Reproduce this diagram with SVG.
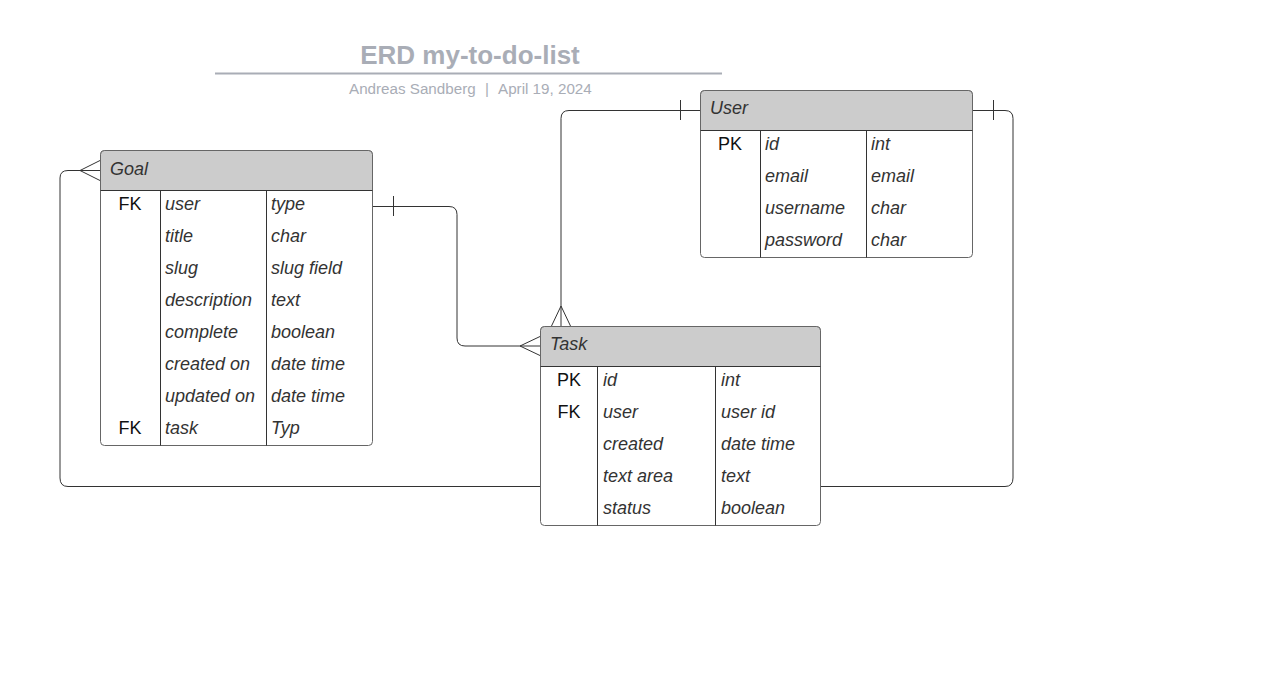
<svg xmlns="http://www.w3.org/2000/svg" width="1284" height="694" viewBox="0 0 1284 694">
<style>
.conn{fill:none;stroke:#333;stroke-width:1}
.box{fill:#fff;stroke:#666;stroke-width:1}
.hdr{fill:#ccc;stroke:#666;stroke-width:1}
.ln{stroke:#333;stroke-width:1}
.t{font-family:"Liberation Sans",Arial,sans-serif;font-size:18px;fill:#333;font-style:italic}
.k{font-family:"Liberation Sans",Arial,sans-serif;font-size:18px;fill:#111;text-anchor:middle}
.title{font-family:"Liberation Sans",Arial,sans-serif;font-size:26px;font-weight:bold;fill:#a9adb6;text-anchor:middle}
.sub{font-family:"Liberation Sans",Arial,sans-serif;font-size:15.2px;fill:#a9adb6}
</style>
<rect width="1284" height="694" fill="#fff"/>
<g id="title">
<text class="title" x="470" y="64">ERD my-to-do-list</text>
<line x1="215" y1="73.5" x2="722" y2="73.5" stroke="#a9adb6" stroke-width="2"/>
<text class="sub" x="349" y="94">Andreas Sandberg</text>
<text class="sub" x="485" y="94">|</text>
<text class="sub" x="498" y="94">April 19, 2024</text>
</g>
<g id="connectors">
<path class="conn" d="M372.5,206.5 H449 Q457,206.5 457,214.5 V338 Q457,346 465,346 H540"/>
<line class="ln" x1="393.5" y1="196" x2="393.5" y2="216"/>
<path class="conn" d="M520,346 L540,336.5 M520,346 L540,355.5"/>
<path class="conn" d="M700,110.5 H569 Q561,110.5 561,118.5 V326"/>
<line class="ln" x1="680.5" y1="100" x2="680.5" y2="120"/>
<path class="conn" d="M561,306 L551.5,326 M561,306 L570.5,326"/>
<path class="conn" d="M972,110.5 H1005 Q1013,110.5 1013,118.5 V478 Q1013,486.5 1005,486.5 H68 Q60,486.5 60,478 V178 Q60,170.5 68,170.5 H100"/>
<line class="ln" x1="993.5" y1="100" x2="993.5" y2="120"/>
<path class="conn" d="M80,170.5 L100,160.5 M80,170.5 L100,180.5"/>
</g>
<g id="goal">
<rect class="box" x="100.5" y="150.5" width="272" height="295" rx="4"/>
<path class="hdr" d="M104.5,150.5 H368.5 Q372.5,150.5 372.5,154.5 V190.5 H100.5 V154.5 Q100.5,150.5 104.5,150.5 Z"/>
<line class="ln" x1="100.5" y1="190.5" x2="372.5" y2="190.5"/>
<line class="ln" x1="160.5" y1="190.5" x2="160.5" y2="445.5"/>
<line class="ln" x1="266.5" y1="190.5" x2="266.5" y2="445.5"/>
<text class="t" x="110" y="175">Goal</text>
<text class="k" x="130" y="210">FK</text>
<text class="t" x="165" y="210">user</text><text class="t" x="271" y="210">type</text>
<text class="t" x="165" y="242">title</text><text class="t" x="271" y="242">char</text>
<text class="t" x="165" y="274">slug</text><text class="t" x="271" y="274">slug field</text>
<text class="t" x="165" y="306">description</text><text class="t" x="271" y="306">text</text>
<text class="t" x="165" y="338">complete</text><text class="t" x="271" y="338">boolean</text>
<text class="t" x="165" y="370">created on</text><text class="t" x="271" y="370">date time</text>
<text class="t" x="165" y="402">updated on</text><text class="t" x="271" y="402">date time</text>
<text class="k" x="130" y="434">FK</text>
<text class="t" x="165" y="434">task</text><text class="t" x="271" y="434">Typ</text>
</g>
<g id="user">
<rect class="box" x="700.5" y="90.5" width="272" height="167" rx="4"/>
<path class="hdr" d="M704.5,90.5 H968.5 Q972.5,90.5 972.5,94.5 V130.5 H700.5 V94.5 Q700.5,90.5 704.5,90.5 Z"/>
<line class="ln" x1="700.5" y1="130.5" x2="972.5" y2="130.5"/>
<line class="ln" x1="760.5" y1="130.5" x2="760.5" y2="257.5"/>
<line class="ln" x1="866.5" y1="130.5" x2="866.5" y2="257.5"/>
<text class="t" x="710" y="114">User</text>
<text class="k" x="730" y="150">PK</text>
<text class="t" x="765" y="150">id</text><text class="t" x="871" y="150">int</text>
<text class="t" x="765" y="182">email</text><text class="t" x="871" y="182">email</text>
<text class="t" x="765" y="214">username</text><text class="t" x="871" y="214">char</text>
<text class="t" x="765" y="246">password</text><text class="t" x="871" y="246">char</text>
</g>
<g id="task">
<rect class="box" x="540.5" y="326.5" width="280" height="199" rx="4"/>
<path class="hdr" d="M544.5,326.5 H816.5 Q820.5,326.5 820.5,330.5 V366.5 H540.5 V330.5 Q540.5,326.5 544.5,326.5 Z"/>
<line class="ln" x1="540.5" y1="366.5" x2="820.5" y2="366.5"/>
<line class="ln" x1="597.5" y1="366.5" x2="597.5" y2="525.5"/>
<line class="ln" x1="715.5" y1="366.5" x2="715.5" y2="525.5"/>
<text class="t" x="550" y="350">Task</text>
<text class="k" x="569" y="386">PK</text>
<text class="t" x="603" y="386">id</text><text class="t" x="721" y="386">int</text>
<text class="k" x="569" y="418">FK</text>
<text class="t" x="603" y="418">user</text><text class="t" x="721" y="418">user id</text>
<text class="t" x="603" y="450">created</text><text class="t" x="721" y="450">date time</text>
<text class="t" x="603" y="482">text area</text><text class="t" x="721" y="482">text</text>
<text class="t" x="603" y="514">status</text><text class="t" x="721" y="514">boolean</text>
</g>
</svg>
